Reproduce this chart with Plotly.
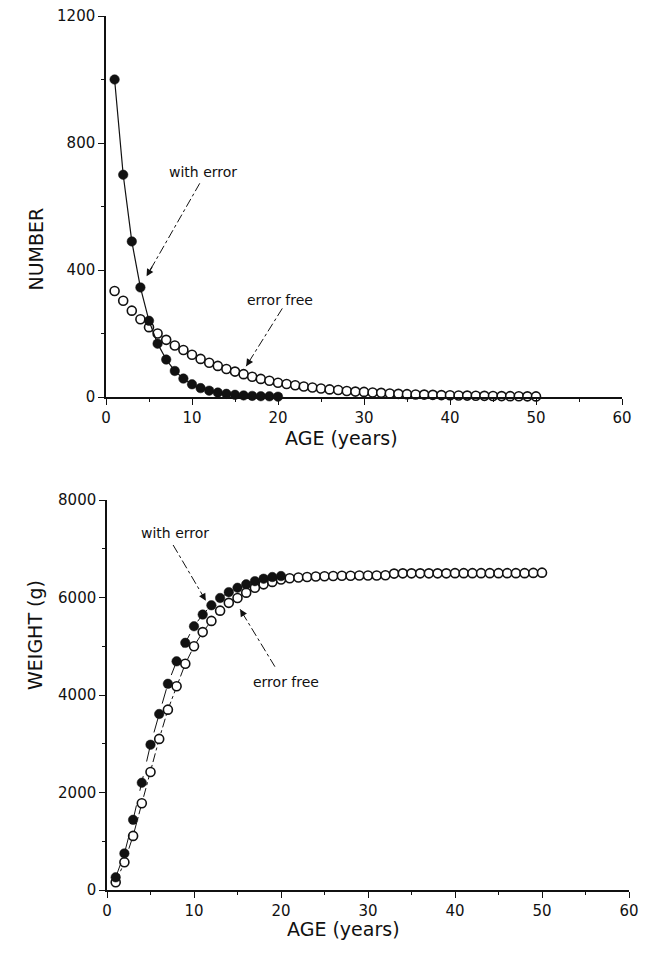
import plotly.graph_objects as go

# ---- data ----
age_err = list(range(1, 21))
age_free = list(range(1, 51))

number_err = [1000, 700, 490, 345, 240, 168, 118, 82, 58, 40,
              28, 20, 14, 10, 7, 5, 3.5, 2.5, 2, 1]
number_free = [334, 303, 272, 245, 220, 200, 180, 162, 148, 133,
               120, 108, 98, 88, 80, 72, 64, 57, 51, 45,
               41, 37, 33, 30, 27, 24, 22, 19, 17, 16,
               14, 13, 11, 10, 9, 8, 7.5, 6.7, 6, 5.4,
               4.9, 4.4, 4, 3.6, 3.2, 2.9, 2.6, 2.3, 2.1, 1.9]

weight_err = [260, 750, 1440, 2200, 2980, 3610, 4230, 4690, 5070, 5410,
              5650, 5840, 5990, 6110, 6200, 6270, 6335, 6385, 6420, 6440]
weight_free = [160, 570, 1110, 1780, 2420, 3100, 3700, 4180, 4640, 5000,
               5290, 5520, 5730, 5890, 5990, 6100, 6200, 6270, 6320, 6370,
               6395, 6410, 6420, 6430, 6435, 6440, 6445, 6445, 6450, 6450,
               6450, 6455, 6490, 6495, 6495, 6495, 6495, 6495, 6495, 6500,
               6500, 6500, 6500, 6500, 6500, 6500, 6500, 6500, 6505, 6510]

x_ticks = [0, 10, 20, 30, 40, 50, 60]
number_ticks = [0, 400, 800, 1200]
weight_ticks = [0, 2000, 4000, 6000, 8000]

FONT = "DejaVu Sans"
BLACK = "#111111"

fig = go.Figure()

open_marker = dict(symbol="circle", size=9, color="white",
                   line=dict(width=1.6, color=BLACK))
filled_marker = dict(symbol="circle", size=9.5, color=BLACK,
                     line=dict(width=0.5, color=BLACK))

# top panel
fig.add_trace(go.Scatter(x=age_free, y=number_free, mode="markers",
                         marker=open_marker,
                         cliponaxis=False, xaxis="x", yaxis="y", showlegend=False))
fig.add_trace(go.Scatter(x=age_err, y=number_err, mode="lines+markers",
                         line=dict(color=BLACK, width=1.2),
                         marker=filled_marker,
                         cliponaxis=False, xaxis="x", yaxis="y", showlegend=False))

# bottom panel
fig.add_trace(go.Scatter(x=age_free, y=weight_free, mode="lines+markers",
                         line=dict(color=BLACK, width=1, dash="dashdot"),
                         marker=open_marker,
                         cliponaxis=False, xaxis="x2", yaxis="y2", showlegend=False))
fig.add_trace(go.Scatter(x=age_err, y=weight_err, mode="lines+markers",
                         line=dict(color=BLACK, width=1, dash="longdash"),
                         marker=filled_marker,
                         cliponaxis=False, xaxis="x2", yaxis="y2", showlegend=False))

W, H = 652, 960

def px_x(p):
    return p / W

def px_y(p):
    return 1 - p / H

axis_common = dict(showline=True, linecolor=BLACK, linewidth=1.5, showgrid=False,
                   zeroline=False, ticks="outside", ticklen=6, tickwidth=1.3,
                   tickcolor=BLACK, automargin=False,
                   tickfont=dict(family=FONT, size=15, color=BLACK))

fig.update_layout(
    width=W, height=H,
    margin=dict(l=0, r=0, t=0, b=0),
    paper_bgcolor="white", plot_bgcolor="white",
    xaxis=dict(domain=[px_x(106), px_x(622)], range=[0, 60], anchor="y",
               tickvals=x_ticks, minor=dict(dtick=5, ticks="outside", ticklen=3,
                                            tickwidth=1.2, tickcolor=BLACK),
               **axis_common),
    yaxis=dict(domain=[px_y(397), px_y(16)], range=[0, 1200], anchor="x",
               tickvals=number_ticks, minor=dict(dtick=200, ticks="outside", ticklen=3,
                                                 tickwidth=1.2, tickcolor=BLACK),
               **axis_common),
    xaxis2=dict(domain=[px_x(107), px_x(629)], range=[0, 60], anchor="y2",
                tickvals=x_ticks, minor=dict(dtick=5, ticks="outside", ticklen=3,
                                             tickwidth=1.2, tickcolor=BLACK),
                **axis_common),
    yaxis2=dict(domain=[px_y(890), px_y(500)], range=[0, 8000], anchor="x2",
                tickvals=weight_ticks, minor=dict(dtick=1000, ticks="outside", ticklen=3,
                                                  tickwidth=1.2, tickcolor=BLACK),
                **axis_common),
)

title_font = dict(family=FONT, size=19, color=BLACK)
ann_font = dict(family=FONT, size=14, color=BLACK)

annotations = [
    dict(text="NUMBER", x=px_x(22), y=px_y(206), xref="paper", yref="paper",
         textangle=-90, showarrow=False, font=title_font),
    dict(text="AGE (years)", x=px_x(341), y=px_y(438), xref="paper", yref="paper",
         showarrow=False, font=title_font),
    dict(text="WEIGHT (g)", x=px_x(22), y=px_y(692), xref="paper", yref="paper",
         textangle=-90, showarrow=False, font=title_font),
    dict(text="AGE (years)", x=px_x(344), y=px_y(942), xref="paper", yref="paper",
         showarrow=False, font=title_font),
    # labels
    dict(text="with error", x=11.3, y=708, xref="x", yref="y", showarrow=False, font=ann_font),
    dict(text="error free", x=20.2, y=307, xref="x", yref="y", showarrow=False, font=ann_font),
    dict(text="with error", x=7.8, y=7317, xref="x2", yref="y2", showarrow=False, font=ann_font),
    dict(text="error free", x=20.6, y=4267, xref="x2", yref="y2", showarrow=False, font=ann_font),
]

arrows = [
    # (tail_x, tail_y, head_x, head_y, xref, yref)
    (10.9, 673, 4.72, 380, "x", "y"),
    (20.5, 279, 16.3, 97, "x", "y"),
    (7.6, 7077, 11.36, 5934, "x2", "y2"),
    (19.3, 4581, 15.3, 5758, "x2", "y2"),
]
shapes = []
for tx, ty, hx, hy, xr, yr in arrows:
    shapes.append(dict(type="line", x0=tx, y0=ty, x1=hx, y1=hy, xref=xr, yref=yr,
                       line=dict(color=BLACK, width=1, dash="dashdot")))
    annotations.append(dict(x=hx, y=hy, ax=hx + (tx - hx) * 0.12, ay=hy + (ty - hy) * 0.12,
                            xref=xr, yref=yr, axref=xr, ayref=yr, text="",
                            showarrow=True, arrowhead=2, arrowsize=1.2, arrowwidth=1.2,
                            arrowcolor=BLACK))

fig.update_layout(annotations=annotations, shapes=shapes)

fig.write_html("out.html",
               config={"displayModeBar": False},
               post_script="document.body.style.margin='0';"
                           "document.body.style.overflow='hidden';")
